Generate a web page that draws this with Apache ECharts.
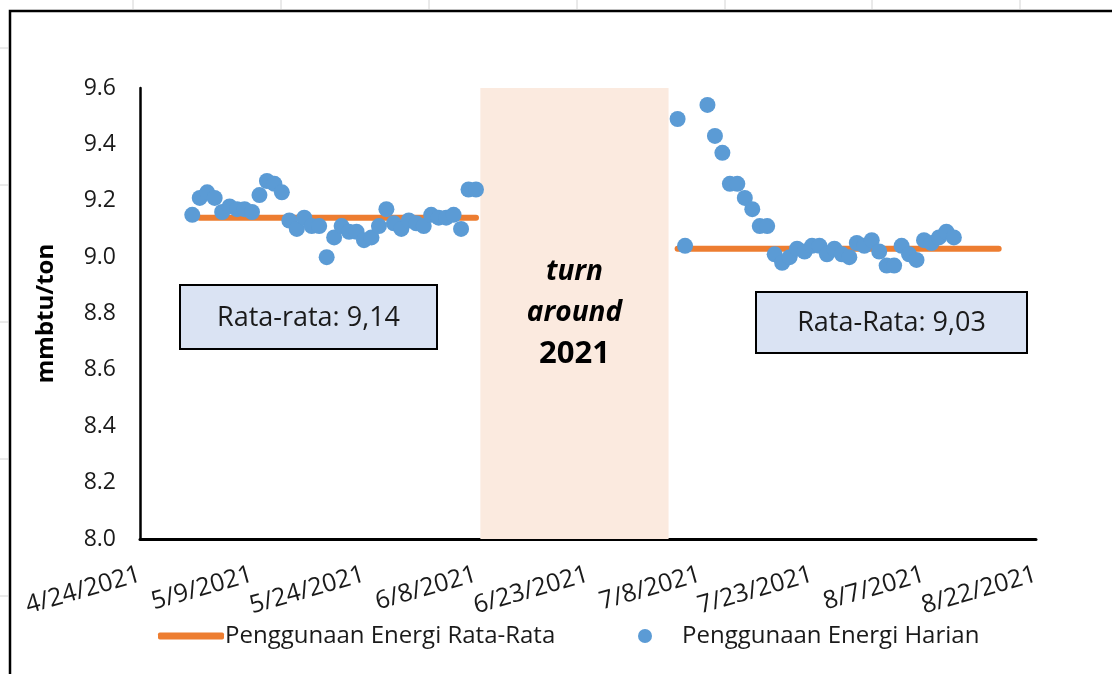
<!DOCTYPE html>
<html>
<head>
<meta charset="utf-8">
<script src="https://cdn.jsdelivr.net/npm/echarts@6/dist/echarts.min.js"></script>
<style>html,body{margin:0;padding:0;background:#fff}#c{width:1112px;height:674px}</style>
</head>
<body>
<div id="c"></div>
<script>
// ---- data ----
const axisStart = '2021-04-24';
const axisEnd = '2021-08-22';
const tickDays = 15;
const yTicks = [8.0, 8.2, 8.4, 8.6, 8.8, 9.0, 9.2, 9.4, 9.6];

const dailyDates = [
  '2021-05-01','2021-05-02','2021-05-03','2021-05-04','2021-05-05','2021-05-06','2021-05-07','2021-05-08',
  '2021-05-09','2021-05-10','2021-05-11','2021-05-12','2021-05-13','2021-05-14','2021-05-15','2021-05-16',
  '2021-05-17','2021-05-18','2021-05-19','2021-05-20','2021-05-21','2021-05-22','2021-05-23','2021-05-24',
  '2021-05-25','2021-05-26','2021-05-27','2021-05-28','2021-05-29','2021-05-30','2021-05-31','2021-06-01',
  '2021-06-02','2021-06-03','2021-06-04','2021-06-05','2021-06-06','2021-06-07','2021-06-08',
  '2021-07-05','2021-07-06','2021-07-09','2021-07-10','2021-07-11','2021-07-12','2021-07-13','2021-07-14',
  '2021-07-15','2021-07-16','2021-07-17','2021-07-18','2021-07-19','2021-07-20','2021-07-21','2021-07-22',
  '2021-07-23','2021-07-24','2021-07-25','2021-07-26','2021-07-27','2021-07-28','2021-07-29','2021-07-30',
  '2021-07-31','2021-08-01','2021-08-02','2021-08-03','2021-08-04','2021-08-05','2021-08-06','2021-08-07',
  '2021-08-08','2021-08-09','2021-08-10','2021-08-11'
];
const dailyValues = [
  9.15, 9.21, 9.23, 9.21, 9.16, 9.18, 9.17, 9.17,
  9.16, 9.22, 9.27, 9.26, 9.23, 9.13, 9.10, 9.14,
  9.11, 9.11, 9.00, 9.07, 9.11, 9.09, 9.09, 9.06,
  9.07, 9.11, 9.17, 9.12, 9.10, 9.13, 9.12, 9.11,
  9.15, 9.14, 9.14, 9.15, 9.10, 9.24, 9.24,
  9.49, 9.04, 9.54, 9.43, 9.37, 9.26, 9.26, 9.21,
  9.17, 9.11, 9.11, 9.01, 8.98, 9.00, 9.03, 9.02,
  9.04, 9.04, 9.01, 9.03, 9.01, 9.00, 9.05, 9.04,
  9.06, 9.02, 8.97, 8.97, 9.04, 9.01, 8.99, 9.06,
  9.05, 9.07, 9.09, 9.07
];

const avgBeforeRange = ['2021-05-02', '2021-06-08'];
const avgBeforeValue = 9.14;
const avgAfterRange = ['2021-07-05', '2021-08-17'];
const avgAfterValue = 9.03;
const turnaroundRange = ['2021-06-08T14:00', '2021-07-03T19:00'];

const avgName = 'Penggunaan Energi Rata-Rata';
const dailyName = 'Penggunaan Energi Harian';
const boxBeforeText = 'Rata-rata: 9,14';
const boxAfterText = 'Rata-Rata: 9,03';
const turnaroundLines = ['turn', 'around', '2021'];
const yName = 'mmbtu/ton';

// ---- helpers ----
const DAY = 86400000;
function parse(s) {
  const [d, t] = s.split('T');
  const [y, m, dd] = d.split('-').map(Number);
  let ms = Date.UTC(y, m - 1, dd);
  if (t) { const [h, mi] = t.split(':').map(Number); ms += (h * 60 + mi) * 60000; }
  return ms;
}
const base = parse(axisStart);
const dayOf = s => (parse(s) - base) / DAY;
function fmt(v) {
  const d = new Date(base + Math.round(v) * DAY);
  return (d.getUTCMonth() + 1) + '/' + d.getUTCDate() + '/' + d.getUTCFullYear();
}

const FONT = '"Open Sans"';
const TXT = '#1a1a1a';
const chart = echarts.init(document.getElementById('c'), null, { renderer: 'canvas' });

const gridL = 140, gridR = 1112 - 1036, gridT = 88, gridB = 674 - 539;

const option = {
  animation: false,
  backgroundColor: '#fff',
  grid: { left: gridL, right: gridR, top: gridT, bottom: gridB, containLabel: false },
  xAxis: {
    type: 'value',
    min: 0,
    max: dayOf(axisEnd),
    interval: tickDays,
    axisLine: { show: true, onZero: false, lineStyle: { color: '#000', width: 3 } },
    axisTick: { show: false },
    splitLine: { show: false },
    axisLabel: {
      formatter: fmt, rotate: 16, margin: 35,
      fontFamily: FONT, fontSize: 25, color: TXT
    }
  },
  yAxis: {
    type: 'value',
    min: yTicks[0], max: yTicks[yTicks.length - 1], interval: 0.2,
    name: yName, nameLocation: 'middle', nameGap: 82,
    nameTextStyle: { fontFamily: FONT, fontSize: 24, fontWeight: 'bold', color: '#000' },
    axisLine: { show: true, lineStyle: { color: '#000', width: 2.5 } },
    axisTick: { show: false },
    splitLine: { show: false },
    axisLabel: {
      formatter: v => v.toFixed(1), margin: 24,
      fontFamily: FONT, fontSize: 23, color: TXT
    }
  },
  legend: [
    {
      data: [avgName], left: 153, top: 619, icon: 'roundRect',
      itemWidth: 66, itemHeight: 7, itemGap: 0,
      textStyle: { fontFamily: FONT, fontSize: 24, color: TXT, padding: [0, 0, 0, -4] }
    },
    {
      data: [dailyName], left: 633, top: 619, icon: 'circle',
      itemWidth: 14, itemHeight: 14,
      textStyle: { fontFamily: FONT, fontSize: 24, color: TXT, padding: [0, 0, 0, 25] }
    }
  ],
  series: [
    {
      name: avgName, type: 'line', symbol: 'none', z: 2,
      lineStyle: { color: '#ED7D31', width: 6, cap: 'round' },
      itemStyle: { color: '#ED7D31' },
      data: [[dayOf(avgBeforeRange[0]), avgBeforeValue], [dayOf(avgBeforeRange[1]), avgBeforeValue]],
      markArea: {
        silent: true,
        itemStyle: { color: '#FBEADF' },
        data: [[
          { xAxis: dayOf(turnaroundRange[0]), yAxis: yTicks[0] },
          { xAxis: dayOf(turnaroundRange[1]), yAxis: yTicks[yTicks.length - 1] + 0.01 }
        ]]
      }
    },
    {
      name: avgName, type: 'line', symbol: 'none', z: 2,
      lineStyle: { color: '#ED7D31', width: 6, cap: 'round' },
      itemStyle: { color: '#ED7D31' },
      data: [[dayOf(avgAfterRange[0]), avgAfterValue], [dayOf(avgAfterRange[1]), avgAfterValue]]
    },
    {
      name: dailyName, type: 'scatter', symbol: 'circle', symbolSize: 16, z: 3,
      itemStyle: { color: '#5B9BD5', opacity: 1 },
      data: dailyDates.map((d, i) => [dayOf(d), dailyValues[i]])
    }
  ],
  graphic: []
};
chart.setOption(option);

// annotations placed via the chart's own scales
function px(day, val) { return chart.convertToPixel({ gridIndex: 0 }, [day, val]); }
const tCenter = px((dayOf(turnaroundRange[0]) + dayOf(turnaroundRange[1])) / 2, 8.8);
const g = [];
// outer frame (spreadsheet object border)
g.push({ type: 'rect', shape: { x: 10, y: 11, width: 1200, height: 800 }, style: { fill: null, stroke: '#000', lineWidth: 2.5 }, z: 0, silent: true });
// faint spreadsheet gridlines outside the frame
[133, 281, 429, 577, 725, 872, 1020].forEach(x => g.push({ type: 'line', shape: { x1: x, y1: 0, x2: x, y2: 9 }, style: { stroke: '#d4d4d4', lineWidth: 1 }, silent: true }));
[48, 185, 322, 459, 596].forEach(y => g.push({ type: 'line', shape: { x1: 0, y1: y, x2: 8, y2: y }, style: { stroke: '#d4d4d4', lineWidth: 1 }, silent: true }));

function box(x, y, w, h, text) {
  g.push({
    type: 'rect', shape: { x, y, width: w, height: h }, z: 10,
    style: { fill: '#DAE3F3', stroke: '#000', lineWidth: 2 }
  });
  g.push({
    type: 'text', x: x + w / 2, y: y + h / 2 + 1, z: 11,
    style: { text, fontFamily: FONT, fontSize: 27, fill: TXT, align: 'center', verticalAlign: 'middle' }
  });
}
box(180, 285, 257, 64, boxBeforeText);
box(756, 292, 271, 61, boxAfterText);

turnaroundLines.forEach((t, i) => {
  g.push({
    type: 'text', x: tCenter[0], y: 272 + i * 41, z: 11,
    style: {
      text: t, fontFamily: FONT, fontSize: i < 2 ? 28 : 31, fontWeight: 'bold',
      fontStyle: i < 2 ? 'italic' : 'normal', fill: '#000', align: 'center', verticalAlign: 'middle'
    }
  });
});
chart.setOption({ graphic: g });
</script>
</body>
</html>
